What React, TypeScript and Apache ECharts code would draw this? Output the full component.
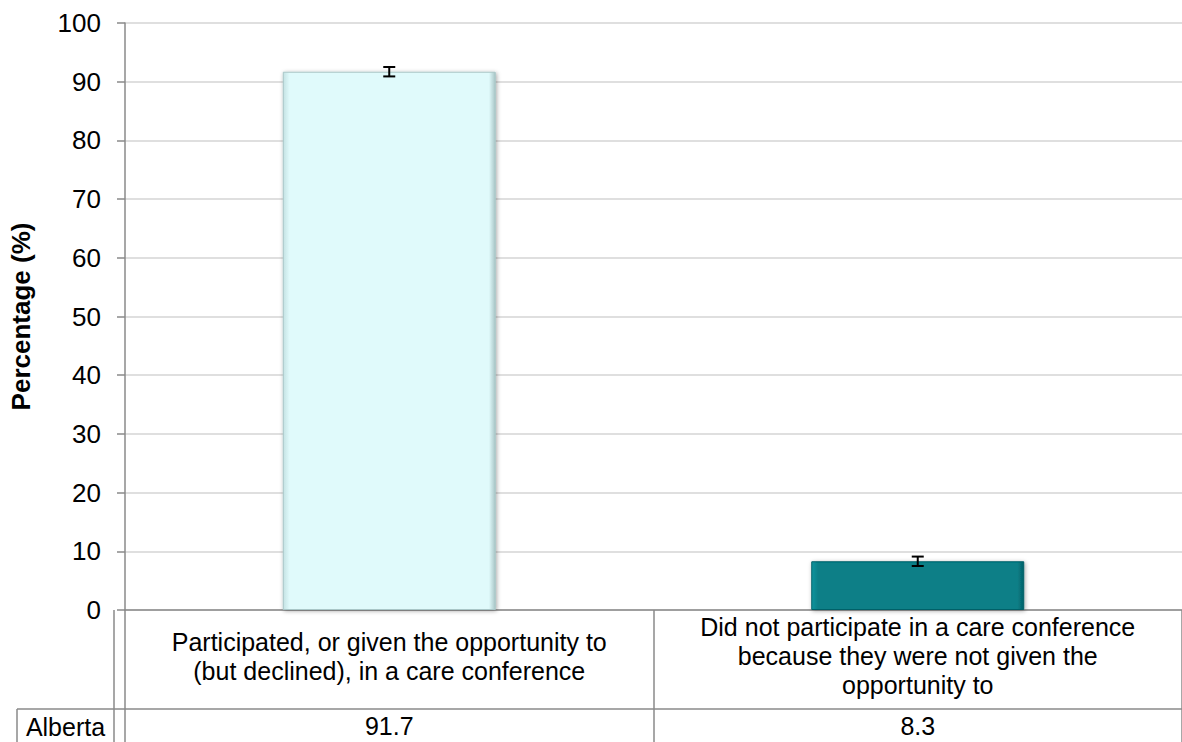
import React, { useEffect, useRef } from "react";
import * as echarts from "echarts";

const categories = [
  "Participated, or given the opportunity to\n(but declined), in a care conference",
  "Did not participate in a care conference\nbecause they were not given the\nopportunity to",
];
const values = [91.7, 8.3];
const errLow = [90.9, 7.5];
const errHigh = [92.5, 9.1];
const rowLabel = "Alberta";
const yTicks = { min: 0, max: 100, interval: 10 };
const yTitle = "Percentage (%)";

const FONT = "'Liberation Sans', Arial, sans-serif";
const FS = 26;
const CAT_FS = 25;

const barColors = [
  { main: "#e0fafb", edgeL: "#c4e2e3", edgeR: "#a9c6c7" },
  { main: "#087f87", edgeL: "#0a959e", edgeR: "#056068" },
];

export default function App() {
  const ref = useRef<HTMLDivElement>(null);
  useEffect(() => {
    document.body.style.margin = "0";
    const chart = echarts.init(ref.current!, null, { renderer: "svg" });
    const W = 1182;
    const H = 742;
    const gl = 114;
    const gTop = 23;
    const gBottom = 132;
    const axisY = H - gBottom;
    const rowY = 709;
    const gray = "#8a8a8a";

    chart.setOption({
      animation: false,
      backgroundColor: "#ffffff",
      grid: { left: gl, right: -8, top: gTop, bottom: gBottom, containLabel: false },
      xAxis: [
        {
          type: "category",
          data: categories,
          axisLine: { show: true, lineStyle: { color: gray, width: 1.5 } },
          axisTick: { show: true, length: gBottom, lineStyle: { color: gray, width: 1.5 }, alignWithLabel: false },
          axisLabel: {
            interval: 0,
            color: "#000",
            fontFamily: FONT,
            fontSize: CAT_FS,
            lineHeight: 29,
            verticalAlign: "middle",
            margin: 46,
          },
        },
        {
          type: "category",
          position: "bottom",
          offset: 116,
          data: values.map((v) => v.toFixed(1)),
          axisLine: { show: false },
          axisTick: { show: false },
          axisLabel: {
            interval: 0,
            color: "#000",
            fontFamily: FONT,
            fontSize: CAT_FS,
            verticalAlign: "middle",
            margin: 0,
          },
        },
      ],
      yAxis: {
        type: "value",
        min: yTicks.min,
        max: yTicks.max,
        interval: yTicks.interval,
        name: yTitle,
        nameLocation: "middle",
        nameGap: 91,
        nameRotate: 90,
        nameTextStyle: { color: "#000", fontFamily: FONT, fontSize: FS, fontWeight: "bold" },
        axisLine: { show: true, lineStyle: { color: gray, width: 1.5 } },
        axisTick: { show: true, length: 8, lineStyle: { color: gray, width: 1.5 } },
        axisLabel: { color: "#000", fontFamily: FONT, fontSize: FS, margin: 24 },
        splitLine: { show: true, lineStyle: { color: "#d4d4d4", width: 1.5 } },
      },
      series: [
        {
          type: "bar",
          barWidth: "40.3%",
          data: values.map((v, i) => ({
            value: v,
            itemStyle: {
              color: new echarts.graphic.LinearGradient(0, 0, 1, 0, [
                { offset: 0, color: barColors[i].edgeL },
                { offset: 0.03, color: barColors[i].main },
                { offset: 0.97, color: barColors[i].main },
                { offset: 1, color: barColors[i].edgeR },
              ]),
              borderColor: barColors[i].edgeR,
              borderWidth: 1,
              shadowColor: "rgba(0,0,0,0.35)",
              shadowBlur: 4,
              shadowOffsetX: 1,
              shadowOffsetY: 1,
            },
          })),
        },
        {
          type: "custom",
          data: values.map((v, i) => [i, errLow[i], errHigh[i]]),
          z: 10,
          renderItem: (params: any, api: any) => {
            const x = api.value(0);
            const lo = api.coord([x, api.value(1)]);
            const hi = api.coord([x, api.value(2)]);
            const cx = lo[0];
            const hw = 6;
            const style = { stroke: "#000", lineWidth: 2 };
            return {
              type: "group",
              children: [
                { type: "line", shape: { x1: cx, y1: hi[1], x2: cx, y2: lo[1] }, style },
                { type: "line", shape: { x1: cx - hw, y1: hi[1], x2: cx + hw, y2: hi[1] }, style },
                { type: "line", shape: { x1: cx - hw, y1: lo[1], x2: cx + hw, y2: lo[1] }, style },
              ],
            };
          },
        },
      ],
      graphic: [
        { type: "line", shape: { x1: gl, y1: axisY, x2: gl, y2: H }, style: { stroke: gray, lineWidth: 1.5 } },
        { type: "line", shape: { x1: 17, y1: rowY, x2: W, y2: rowY }, style: { stroke: gray, lineWidth: 1.5 } },
        { type: "line", shape: { x1: 17, y1: rowY, x2: 17, y2: H }, style: { stroke: gray, lineWidth: 1.5 } },
        {
          type: "text",
          x: (17 + gl) / 2,
          y: (rowY + H) / 2 + 1,
          style: {
            text: rowLabel,
            fill: "#000",
            font: `${CAT_FS}px ${FONT}`,
            align: "center",
            verticalAlign: "middle",
          },
        },
      ],
    });
    return () => chart.dispose();
  }, []);
  return <div ref={ref} style={{ position: "fixed", left: 0, top: 0, width: 1182, height: 742 }} />;
}
